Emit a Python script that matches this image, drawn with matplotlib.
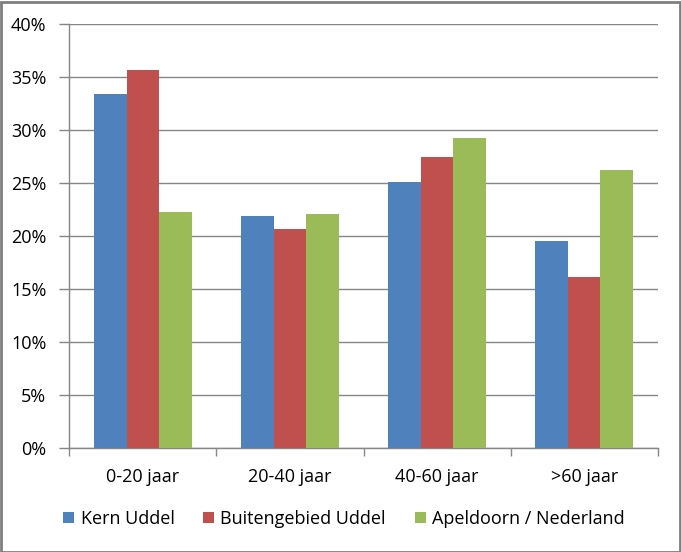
import numpy as np
import matplotlib
matplotlib.use("Agg")
import matplotlib.pyplot as plt
from matplotlib.patches import Rectangle

categories = ["0-20 jaar", "20-40 jaar", "40-60 jaar", ">60 jaar"]
series_names = ["Kern Uddel", "Buitengebied Uddel", "Apeldoorn / Nederland"]
kern_uddel = [33.4, 21.9, 25.1, 19.6]
buitengebied_uddel = [35.7, 20.7, 27.5, 16.2]
apeldoorn_nederland = [22.3, 22.1, 29.3, 26.3]
y_ticks = [0, 5, 10, 15, 20, 25, 30, 35, 40]

colors = ["#4F81BD", "#C0504D", "#9BBB59"]
grid_col = "#868686"
fs = 13

plt.rcParams['font.family'] = ['Open Sans', 'DejaVu Sans']

fig = plt.figure(figsize=(6.81, 5.52), dpi=100)
ax = fig.add_axes([69.3 / 681, 1 - 448.3 / 552, (657.7 - 69.3) / 681, (448.3 - 24.3) / 552])

x = np.arange(len(categories))
w = 1 / 4.5  # excel gap width 150%
for i, (vals, name) in enumerate(zip([kern_uddel, buitengebied_uddel, apeldoorn_nederland], series_names)):
    ax.bar(x + (i - 1) * w, vals, width=w, color=colors[i], label=name, zorder=3)

ax.set_xlim(-0.5, len(categories) - 0.5)
ax.set_ylim(0, 40)
ax.set_yticks(y_ticks)
ax.set_yticklabels([f"{t}%" for t in y_ticks], fontsize=fs)
ax.yaxis.grid(True, color=grid_col, linewidth=1, zorder=0)

# category labels centred, tick marks on boundaries
ax.set_xticks(np.arange(-0.5, len(categories), 1))
ax.set_xticklabels([])
ax.set_xticks(x, minor=True)
ax.set_xticklabels(categories, minor=True, fontsize=fs)
ax.tick_params(axis="x", which="minor", length=0, pad=14)
ax.tick_params(axis="x", which="major", length=6, color=grid_col, width=1)
ax.tick_params(axis="y", length=7, color=grid_col, width=1, pad=9.5)

for s in ["top", "right"]:
    ax.spines[s].set_visible(False)
for s in ["left", "bottom"]:
    ax.spines[s].set_color(grid_col)
    ax.spines[s].set_linewidth(1)

fig.legend(loc="center", bbox_to_anchor=(344 / 681, 1 - 519 / 552), ncol=3, frameon=False,
           fontsize=fs, handlelength=0.6, handleheight=0.6, handletextpad=0.35,
           columnspacing=1.6)

fig.patches.append(Rectangle((0.5 / 681, 0.5 / 552), 679 / 681, 550 / 552, transform=fig.transFigure,
                             fill=False, edgecolor="#7F7F7F", linewidth=2))

fig.savefig("out.png", dpi=100)
